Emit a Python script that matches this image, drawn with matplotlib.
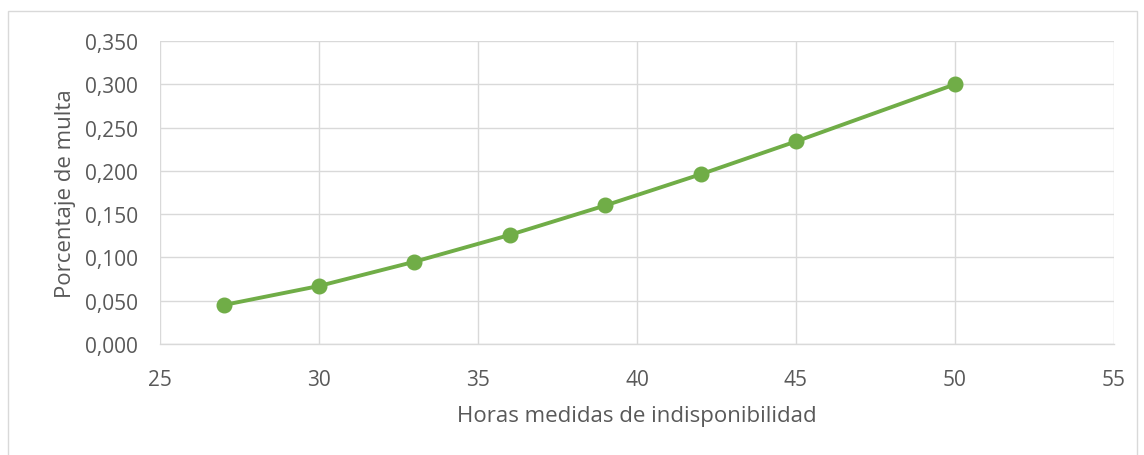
import matplotlib
matplotlib.use("Agg")
import matplotlib.pyplot as plt
from matplotlib.patches import Rectangle
from matplotlib.ticker import FuncFormatter

hours = [27, 30, 33, 36, 39, 42, 45, 50]
fine_pct = [0.045, 0.067, 0.095, 0.126, 0.160, 0.196, 0.234, 0.300]
x_ticks = [25, 30, 35, 40, 45, 50, 55]
y_ticks = [0.0, 0.05, 0.10, 0.15, 0.20, 0.25, 0.30, 0.35]

plt.rcParams['font.family'] = ['Open Sans', 'DejaVu Sans']
text_color = '#595959'
grid_color = '#D9D9D9'
green = '#70AD47'

fig = plt.figure(figsize=(11.44, 4.56), dpi=100)
fig.patches.append(Rectangle((8/1144, -0.01), (1137-8)/1144, (456-12)/456 + 0.01,
                             transform=fig.transFigure, fill=False,
                             edgecolor=grid_color, linewidth=1))

ax = fig.add_axes([160/1144, (456-345)/456, (1114-160)/1144, (345-42)/456])
ax.plot(hours, fine_pct, color=green, linewidth=2.8, marker='o',
        markersize=10.5, markerfacecolor=green, markeredgecolor=green,
        solid_capstyle='round', solid_joinstyle='round', zorder=3)

ax.set_xlim(25, 55)
ax.set_ylim(0, 0.35)
ax.set_xticks(x_ticks)
ax.set_yticks(y_ticks)
ax.yaxis.set_major_formatter(FuncFormatter(lambda v, p: f"{v:.3f}".replace('.', ',')))
ax.grid(True, color=grid_color, linewidth=1)
ax.set_axisbelow(True)
for s in ['top', 'right', 'left']:
    ax.spines[s].set_visible(False)
ax.spines['bottom'].set_color(grid_color)
ax.spines['bottom'].set_linewidth(1)
ax.tick_params(length=0, labelsize=15, colors=text_color)
ax.tick_params(axis='y', pad=16)
ax.tick_params(axis='x', pad=18)

ax.set_xlabel('Horas medidas de indisponibilidad', fontsize=16, color=text_color, labelpad=11)
ax.set_ylabel('Porcentaje de multa', fontsize=16, color=text_color, labelpad=6)

fig.savefig('out.png', dpi=100)
